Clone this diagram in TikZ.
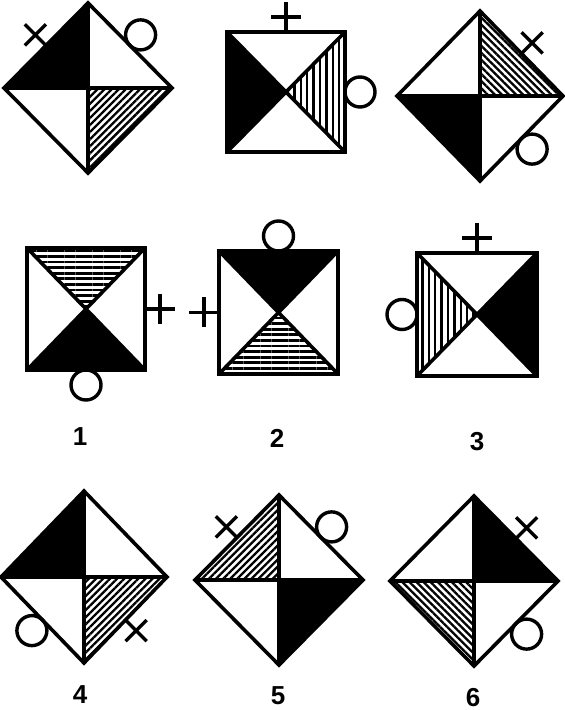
\documentclass[tikz,border=0pt]{standalone}
\usepackage{fontspec}
\setmainfont{Liberation Sans}
\usetikzlibrary{patterns.meta}

\begin{document}
\begin{tikzpicture}[x=.5pt,y=-.5pt,
  rim/.style={line width=1.8pt,line join=miter},
  sign/.style={line width=1.7pt},
  hatchR/.style={pattern={Lines[angle=45,distance=2.5pt,line width=1.15pt]}},
  hatchL/.style={pattern={Lines[angle=-45,distance=2.5pt,line width=1.15pt]}},
  hatchH/.style={pattern={Lines[angle=0,distance=2.8pt,line width=1.4pt]}},
  hatchV/.style={pattern={Lines[angle=90,distance=3.2pt,line width=1.15pt]}},
  plus/.pic={\draw[sign] (0,0) -- (0,-30) (-15,-15) -- (15,-15);},
  ring/.pic={\draw[sign] (0,-15) circle[radius=15];},
  num/.style={font=\bfseries\fontsize{13}{15}\selectfont,inner sep=0pt}]
\useasboundingbox (0,0) rectangle (565,710);

\fill (88,88) -- (88,3) -- (4,88) -- cycle;
\path[hatchR] (88,88) -- (172,88) -- (88,173) -- cycle;
\draw[rim] (88,3) -- (172,88) -- (88,173) -- (4,88) -- cycle (88,3) -- (88,173) (4,88) -- (172,88);
\pic[rotate=45] at (46,45.5) {plus};
\pic[rotate=-45] at (130,45.5) {ring};

\fill (227,32) -- (286,92) -- (227,152) -- cycle;
\path[hatchV] (345,32) -- (286,92) -- (345,152) -- cycle;
\draw[rim] (227,32) rectangle (345,152) (227,32) -- (345,152) (345,32) -- (227,152);
\pic at (286,32) {plus};
\pic[rotate=-90] at (345,92) {ring};

\fill (480,96) -- (397,96) -- (480,181) -- cycle;
\path[hatchL] (480,96) -- (480,11) -- (563,96) -- cycle;
\draw[rim] (480,11) -- (563,96) -- (480,181) -- (397,96) -- cycle (480,11) -- (480,181) (397,96) -- (563,96);
\pic[rotate=-45] at (521.5,53.5) {plus};
\pic[rotate=-135] at (521.5,138.5) {ring};

\path[hatchH] (27,248) -- (145,248) -- (86,309) -- cycle;
\fill (27,370) -- (145,370) -- (86,309) -- cycle;
\draw[rim] (27,248) rectangle (145,370) (27,248) -- (145,370) (145,248) -- (27,370);
\pic[rotate=-90] at (145,309) {plus};
\pic[rotate=180] at (86,370) {ring};

\fill (219,251) -- (338,251) -- (278.5,312.5) -- cycle;
\path[hatchH] (219,374) -- (338,374) -- (278.5,312.5) -- cycle;
\draw[rim] (219,251) rectangle (338,374) (219,251) -- (338,374) (338,251) -- (219,374);
\pic at (278.5,251) {ring};
\pic[rotate=90] at (219,312.5) {plus};

\path[hatchV] (417,253) -- (477,314.5) -- (417,376) -- cycle;
\fill (537,253) -- (477,314.5) -- (537,376) -- cycle;
\draw[rim] (417,253) rectangle (537,376) (417,253) -- (537,376) (537,253) -- (417,376);
\pic at (477,253) {plus};
\pic[rotate=90] at (417,314.5) {ring};

\node[num] (l1) at (80,437) {1};
\node[num] (l2) at (277,438) {2};
\node[num] (l3) at (477,442) {3};

\fill (84,577) -- (84,491) -- (1,577) -- cycle;
\path[hatchR] (84,577) -- (167,577) -- (84,663) -- cycle;
\draw[rim] (84,491) -- (167,577) -- (84,663) -- (1,577) -- cycle (84,491) -- (84,663) (1,577) -- (167,577);
\pic[rotate=135] at (42.5,620) {ring};
\pic[rotate=-135] at (125.5,620) {plus};

\path[hatchR] (279,580) -- (279,495) -- (195,580) -- cycle;
\fill (279,580) -- (363,580) -- (279,665) -- cycle;
\draw[rim] (279,495) -- (363,580) -- (279,665) -- (195,580) -- cycle (279,495) -- (279,665) (195,580) -- (363,580);
\pic[rotate=45] at (237,537.5) {plus};
\pic[rotate=-45] at (321,537.5) {ring};

\fill (474,581) -- (474,496) -- (558,581) -- cycle;
\path[hatchL] (474,581) -- (390,581) -- (474,666) -- cycle;
\draw[rim] (474,496) -- (558,581) -- (474,666) -- (390,581) -- cycle (474,496) -- (474,666) (390,581) -- (558,581);
\pic[rotate=-45] at (516,538.5) {plus};
\pic[rotate=-135] at (516,623.5) {ring};

\node[num] (l4) at (80,695) {4};
\node[num] (l5) at (278,696) {5};
\node[num] (l6) at (473,698) {6};
\end{tikzpicture}
\end{document}
